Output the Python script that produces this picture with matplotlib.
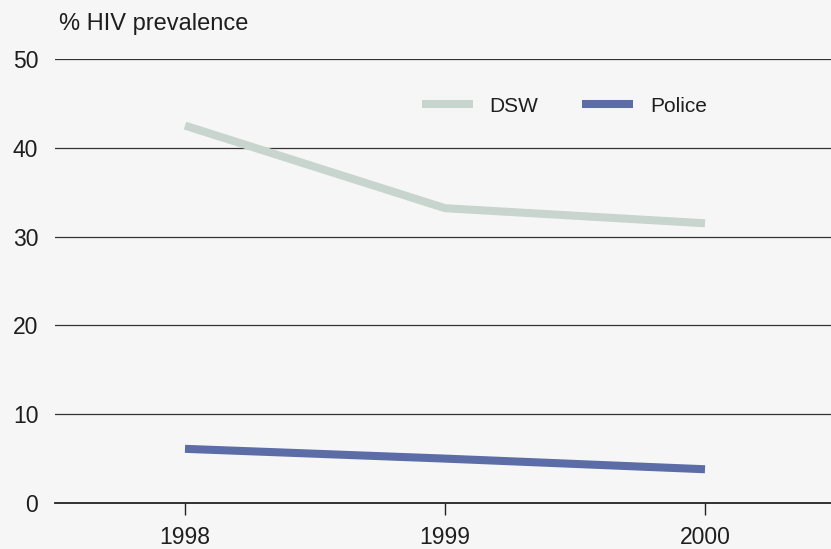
import matplotlib
matplotlib.use("Agg")
import matplotlib.pyplot as plt

years = [1998, 1999, 2000]
dsw = [42.5, 33.2, 31.5]
police = [6.1, 5.0, 3.8]
y_ticks = [0, 10, 20, 30, 40, 50]

plt.rcParams["font.family"] = ["Liberation Sans", "DejaVu Sans"]

W, H = 831, 549
bg = "#f6f6f6"
fig = plt.figure(figsize=(W / 100, H / 100), dpi=100, facecolor=bg)
ax = fig.add_axes([55 / W, 46 / H, 776 / W, 444 / H], facecolor=bg)

# the two series, thick flat-ended lines
ax.plot(years, dsw, color="#c8d5ce", lw=5.8, label="DSW", solid_capstyle="butt")
ax.plot(years, police, color="#5b6ca6", lw=5.8, label="Police", solid_capstyle="butt")

ax.set_xlim(1997.5, 2000 + 126 / 260)
ax.set_ylim(0, 50)
ax.set_yticks(y_ticks)
ax.set_xticks(years)
ax.set_xticklabels([str(y) for y in years])

for v in y_ticks[1:]:
    ax.axhline(v, color="#333333", lw=0.9, zorder=0)

for s in ["top", "right", "left"]:
    ax.spines[s].set_visible(False)
ax.spines["bottom"].set_color("#222222")
ax.spines["bottom"].set_linewidth(1.3)

ax.tick_params(axis="y", length=0, pad=12, labelsize=16.5, labelcolor="#1e1e1e")
ax.tick_params(axis="x", length=8.5, width=1, color="#222222", pad=8,
               labelsize=16.5, labelcolor="#1e1e1e")

fig.text(59 / W, 1 - 24 / H, "% HIV prevalence", fontsize=17,
         color="#1e1e1e", va="center", ha="left")

ax.legend(loc="center left", bbox_to_anchor=(422 / W, 1 - 106 / H),
          bbox_transform=fig.transFigure, ncol=2, frameon=False,
          fontsize=15, borderpad=0, borderaxespad=0, handlelength=2.45,
          columnspacing=2.1, handletextpad=0.8, labelcolor="#1e1e1e")

fig.savefig("out.png", dpi=100, facecolor=bg)
